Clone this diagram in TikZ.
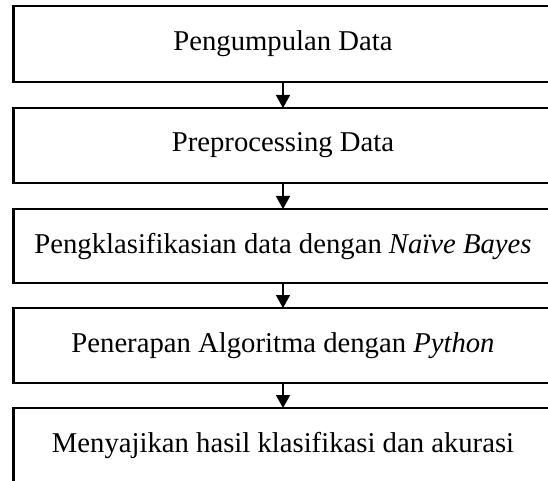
\documentclass[tikz,border=0pt]{standalone}
\usepackage{fontspec}
\setmainfont{Liberation Serif}
\usetikzlibrary{arrows.meta}
\begin{document}
\begin{tikzpicture}[x=1bp,y=-1bp,
  stepbox/.style={draw=black, line width=2.4bp, rectangle, inner sep=0pt, outer sep=0pt,
    minimum width=539bp, minimum height=75bp, font=\fontsize{28.8}{34}\selectfont, text=black},
  flow/.style={line width=1.6bp, -{Triangle[width=14bp,length=13bp]}}]
\useasboundingbox (0,0) rectangle (548,481);
\clip (0,0) rectangle (548,481);
\fill[white] (0,0) rectangle (548,481);
\node[stepbox, minimum height=76bp] (b1) at (283,44) {Pengumpulan Data};
\node[stepbox] (b2) at (283,145.5) {Preprocessing Data};
\node[stepbox, minimum height=74bp] (b3) at (283,246) {Pengklasifikasian data dengan \textit{Naïve Bayes}};
\node[stepbox] (b4) at (283,345.5) {Penerapan Algoritma dengan \textit{Python}};
\node[stepbox] (b5) at (283,445.5) {Menyajikan hasil klasifikasi dan akurasi};
\draw[flow] (b1.south) -- (b2.north);
\draw[flow] (b2.south) -- (b3.north);
\draw[flow] (b3.south) -- (b4.north);
\draw[flow] (b4.south) -- (b5.north);
\end{tikzpicture}
\end{document}
